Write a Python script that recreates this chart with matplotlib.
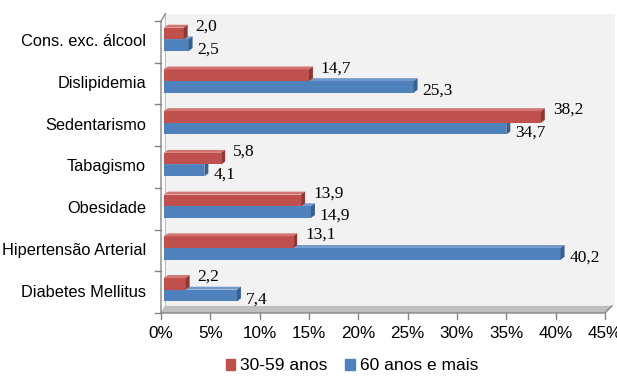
import matplotlib.pyplot as plt
from matplotlib.patches import Polygon, Patch

categorias = ['Diabetes Mellitus', 'Hipertensão Arterial', 'Obesidade', 'Tabagismo',
              'Sedentarismo', 'Dislipidemia', 'Cons. exc. álcool']
adultos = [2.2, 13.1, 13.9, 5.8, 38.2, 14.7, 2.0]      # 30-59 anos
idosos = [7.4, 40.2, 14.9, 4.1, 34.7, 25.3, 2.5]       # 60 anos e mais
xticks = [0, 5, 10, 15, 20, 25, 30, 35, 40, 45]

RED, RED_TOP, RED_SIDE = '#C0504D', '#D27572', '#8E3735'
BLUE, BLUE_TOP, BLUE_SIDE = '#4F81BD', '#7199CB', '#375F8F'
AXIS = '#868686'

fig = plt.figure(figsize=(6.17, 3.82), dpi=100)
ax = fig.add_axes([161 / 617, 1 - 313 / 382, 444 / 617, 292 / 382])
ax.set_xlim(0, 45)
ax.set_ylim(-0.5, 6.5)
ax.axis('off')

# back wall and floor of the 3-D box
wdx, wdy = 0.45, 0.17
ax.add_patch(Polygon([(wdx, -0.5 + wdy), (46.0, -0.5 + wdy), (46.0, 6.5 + wdy), (wdx, 6.5 + wdy)],
                     closed=True, facecolor='#F2F2F2', edgecolor='none', clip_on=False, zorder=0))
ax.add_patch(Polygon([(0, -0.5), (45, -0.5), (45.7, -0.5 + wdy), (wdx, -0.5 + wdy)],
                     closed=True, facecolor='#BFBFBF', edgecolor='none', clip_on=False, zorder=1))

# axis lines
ax.plot([0, 0, wdx], [-0.5, 6.5, 6.5 + wdy], color=AXIS, lw=1, clip_on=False, zorder=2)
ax.plot([0, 45, 45.7], [-0.5, -0.5, -0.5 + wdy], color=AXIS, lw=1, clip_on=False, zorder=2)
ax.plot([0, wdx, wdx], [-0.5, -0.5 + wdy, 6.5 + wdy], color='#BFBFBF', lw=0.8, clip_on=False, zorder=1)
for k in range(8):
    ax.plot([-0.6, 0], [k - 0.5, k - 0.5], color=AXIS, lw=1, clip_on=False, zorder=2)
for t in xticks:
    ax.plot([t, t], [-0.5, -0.5 - 0.15], color=AXIS, lw=1, clip_on=False, zorder=2)
    ax.text(t, -0.5 - 0.5, f'{t}%', ha='center', va='center', fontsize=12.3,
            family='Liberation Sans')
for i, c in enumerate(categorias):
    ax.text(-1.5, i, c, ha='right', va='center', fontsize=11.8, family='Liberation Sans')

x0, h, bdx, bdy = 0.3, 0.28, 0.4, 0.07


def bar3d(ys, vals, front, top, side, dy_label, dx_label):
    ax.barh(ys, vals, height=h, left=x0, color=front, zorder=3)
    for y, v in zip(ys, vals):
        b, t, e = y - h / 2, y + h / 2, x0 + v
        ax.add_patch(Polygon([(x0, t), (e, t), (e + bdx, t + bdy), (x0 + bdx, t + bdy)],
                             closed=True, facecolor=top, edgecolor='none', zorder=3))
        ax.add_patch(Polygon([(e, b), (e, t), (e + bdx, t + bdy), (e + bdx, b + bdy)],
                             closed=True, facecolor=side, edgecolor='none', zorder=3))
        ax.annotate(f'{v:.1f}'.replace('.', ','), (e + bdx, y), xytext=(dx_label, dy_label),
                    textcoords='offset pixels', ha='left', va='center', fontsize=12.5,
                    family='Liberation Serif', zorder=4)


pos = list(range(len(categorias)))
bar3d([p - 0.08 for p in pos], idosos, BLUE, BLUE_TOP, BLUE_SIDE, -4, 5)
bar3d([p + 0.20 for p in pos], adultos, RED, RED_TOP, RED_SIDE, 7, 8)

handles = [Patch(color=RED, label='30-59 anos'), Patch(color=BLUE, label='60 anos e mais')]
fig.legend(handles=handles, loc='center', bbox_to_anchor=(352 / 617, 1 - 366 / 382), ncol=2,
           frameon=False, prop={'family': 'Liberation Sans', 'size': 12.5},
           handlelength=0.55, handleheight=0.55, handletextpad=0.3, columnspacing=1.0)

fig.savefig('out.png', dpi=100)
